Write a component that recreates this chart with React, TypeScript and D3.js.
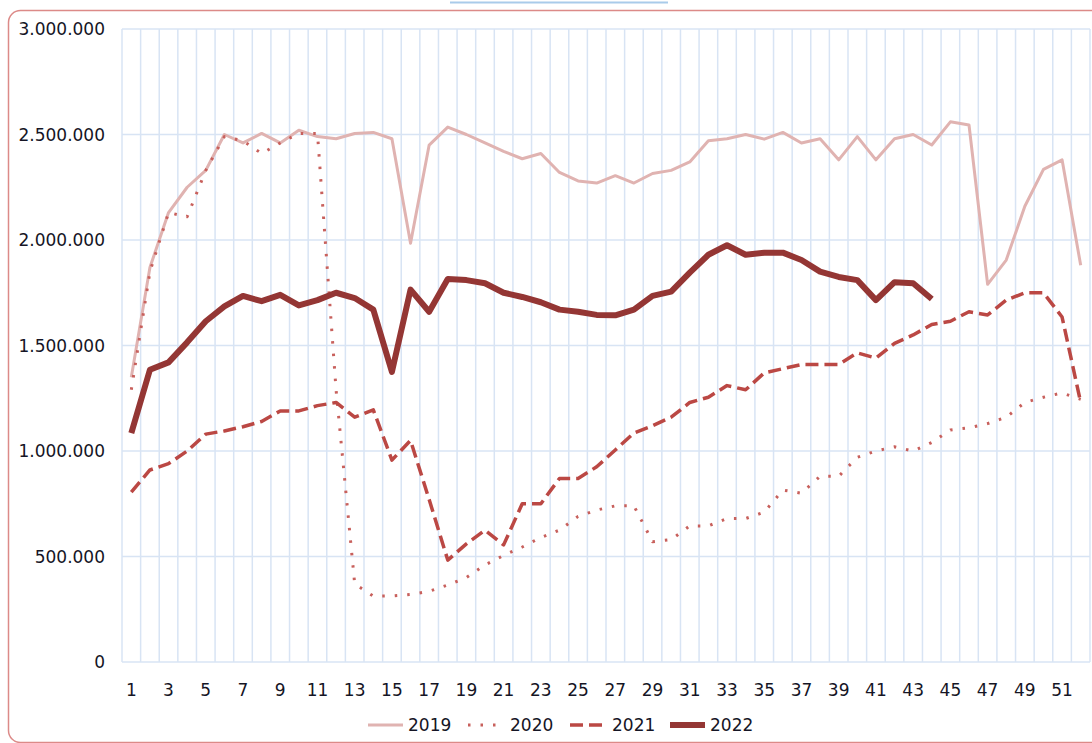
import React from "react";
import * as d3 from "d3";

const weeks: number[] = Array.from({ length: 52 }, (_, i) => i + 1);
const yTicks: number[] = [0, 500000, 1000000, 1500000, 2000000, 2500000, 3000000];

const v2019: number[] = [
  1350000, 1870000, 2130000, 2250000, 2330000, 2500000, 2460000, 2505000, 2460000, 2520000,
  2490000, 2480000, 2505000, 2510000, 2480000, 1985000, 2450000, 2535000, 2500000, 2460000,
  2420000, 2385000, 2410000, 2320000, 2280000, 2270000, 2305000, 2270000, 2315000, 2330000,
  2370000, 2470000, 2480000, 2500000, 2478000, 2510000, 2460000, 2480000, 2380000, 2490000,
  2380000, 2480000, 2500000, 2450000, 2560000, 2545000, 1790000, 1905000, 2160000, 2335000,
  2380000, 1880000,
];
const v2020: number[] = [
  1290000, 1850000, 2130000, 2110000, 2330000, 2490000, 2470000, 2410000, 2460000, 2505000,
  2505000, 1290000, 370000, 312000, 313000, 320000, 335000, 365000, 400000, 460000,
  505000, 545000, 590000, 625000, 690000, 720000, 740000, 740000, 570000, 580000,
  645000, 645000, 680000, 680000, 710000, 815000, 800000, 880000, 880000, 970000,
  1000000, 1020000, 1000000, 1040000, 1100000, 1110000, 1130000, 1160000, 1230000, 1255000,
  1275000, 1245000,
];
const v2021: number[] = [
  805000, 910000, 940000, 1000000, 1080000, 1095000, 1115000, 1140000, 1190000, 1190000,
  1215000, 1230000, 1160000, 1195000, 957000, 1050000, 770000, 483000, 560000, 625000,
  555000, 750000, 750000, 870000, 870000, 925000, 1005000, 1085000, 1120000, 1160000,
  1230000, 1255000, 1310000, 1290000, 1370000, 1390000, 1410000, 1410000, 1410000, 1465000,
  1440000, 1510000, 1550000, 1600000, 1615000, 1660000, 1645000, 1715000, 1750000, 1750000,
  1635000, 1230000,
];
const v2022: number[] = [
  1085000, 1385000, 1420000, 1515000, 1615000, 1685000, 1735000, 1710000, 1740000, 1690000,
  1715000, 1750000, 1725000, 1670000, 1375000, 1765000, 1660000, 1815000, 1810000, 1795000,
  1750000, 1730000, 1705000, 1670000, 1660000, 1645000, 1643000, 1670000, 1735000, 1755000,
  1845000, 1930000, 1975000, 1930000, 1940000, 1940000, 1905000, 1850000, 1825000, 1810000,
  1715000, 1800000, 1795000, 1720000,
];

const seriesNames: string[] = ["2019", "2020", "2021", "2022"];

const styles = [
  { color: "#e0b3b1", width: 3, dash: "", cap: "butt" },
  { color: "#c8605c", width: 3, dash: "2.5 10", cap: "butt" },
  { color: "#bb4844", width: 3.5, dash: "13 6", cap: "butt" },
  { color: "#943634", width: 6, dash: "", cap: "butt" },
];

const W = 1092;
const H = 743;
const left = 122;
const right = 1090;
const top = 29;
const bottom = 662;
const FONT = "'DejaVu Sans', Verdana, sans-serif";

export default function App() {
  const x = d3.scaleBand<number>().domain(weeks).range([left, right]).padding(0);
  const y = d3.scaleLinear().domain([0, 3000000]).range([bottom, top]);
  const cx = (w: number) => (x(w) as number) + x.bandwidth() / 2;
  const line = d3
    .line<number>()
    .x((_, i) => cx(weeks[i]))
    .y((d) => y(d));
  const fmt = (v: number) => d3.format(",")(v).replace(/,/g, ".");
  const data = [v2019, v2020, v2021, v2022];

  const boundaries = weeks.map((w) => x(w) as number).concat([right]);

  const legendItems = [
    { x0: 368, x1: 403, tx: 408 },
    { x0: 468, x1: 501, tx: 510 },
    { x0: 570, x1: 604, tx: 612 },
    { x0: 670, x1: 705, tx: 710 },
  ];

  return (
    <svg
      width={W}
      height={H}
      style={{ position: "absolute", left: 0, top: 0, background: "#fff" }}
      fontFamily={FONT}
    >
      <line x1={450} x2={668} y1={2.5} y2={2.5} stroke="#a9cbea" strokeWidth={2} />
      <rect x={8.5} y={10.5} width={1100} height={732} rx={12} ry={12} fill="none" stroke="#dc8a88" strokeWidth={1.5} />
      <g>
        {boundaries.map((bx, i) => (
          <line key={"v" + i} x1={bx} x2={bx} y1={top} y2={bottom} stroke="#d8e4f4" strokeWidth={1.5} />
        ))}
        {yTicks.map((t) => (
          <line key={"h" + t} x1={left} x2={right} y1={y(t)} y2={y(t)} stroke="#d8e4f4" strokeWidth={1.5} />
        ))}
      </g>
      <g fontSize={17} fill="#151525">
        {yTicks.map((t) => (
          <text key={"yl" + t} x={105} y={y(t)} textAnchor="end" dominantBaseline="central">
            {fmt(t)}
          </text>
        ))}
        {weeks
          .filter((w) => w % 2 === 1)
          .map((w) => (
            <text key={"xl" + w} x={cx(w)} y={690} textAnchor="middle" dominantBaseline="central">
              {w}
            </text>
          ))}
      </g>
      <g fill="none" strokeLinejoin="round">
        {data.map((d, i) => (
          <path
            key={seriesNames[i]}
            d={line(d) || ""}
            stroke={styles[i].color}
            strokeWidth={styles[i].width}
            strokeDasharray={styles[i].dash || undefined}
          />
        ))}
      </g>
      <g fontSize={17} fill="#151525">
        {legendItems.map((it, i) => (
          <g key={"lg" + i}>
            <line
              x1={it.x0}
              x2={it.x1}
              y1={725}
              y2={725}
              stroke={styles[i].color}
              strokeWidth={styles[i].width}
              strokeDasharray={styles[i].dash || undefined}
            />
            <text x={it.tx} y={725} dominantBaseline="central">
              {seriesNames[i]}
            </text>
          </g>
        ))}
      </g>
    </svg>
  );
}
